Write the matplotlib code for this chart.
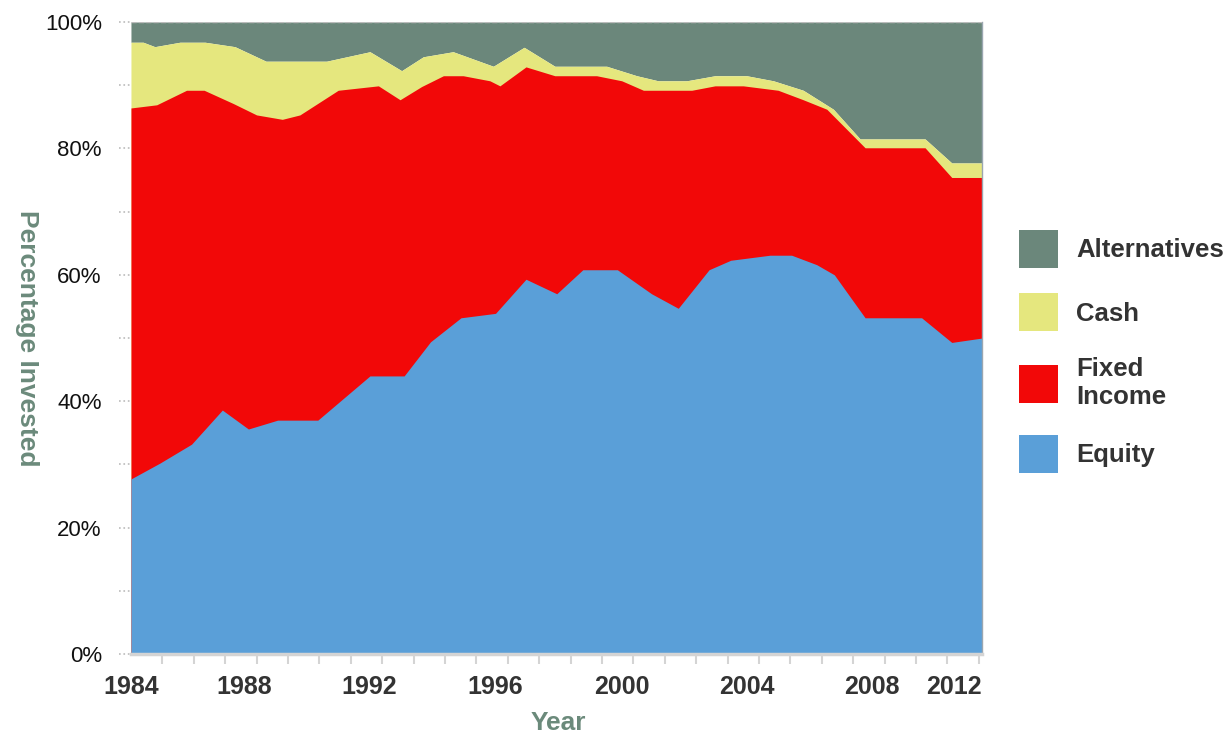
import matplotlib.pyplot as plt
import matplotlib.transforms as mtransforms
from matplotlib.patches import Patch

plt.rcParams['font.family'] = ['Liberation Sans', 'DejaVu Sans']

# x positions are years on the chart's own scale (one minor tick per year)
equity_x = [1984.00, 1984.92, 1985.93, 1986.91, 1987.74, 1988.67, 1989.95, 1991.61,
            1992.70, 1993.54, 1994.51, 1995.61, 1996.58, 1997.56, 1998.39, 1999.49,
            2000.58, 2001.43, 2002.41, 2003.10, 2004.35, 2005.04, 2005.84, 2006.40,
            2007.38, 2009.18, 2010.14, 2011.11]
equity_pct = [27.7, 30.2, 33.2, 38.6, 35.6, 37.0, 37.0, 44.0,
              44.0, 49.4, 53.2, 53.9, 59.3, 57.0, 60.8, 60.8,
              57.0, 54.7, 60.8, 62.3, 63.1, 63.1, 61.6, 60.0,
              53.2, 53.2, 49.3, 50.0]

# equity + fixed income (top edge of the red band)
fixed_top_x = [1984.00, 1984.82, 1985.77, 1986.33, 1987.26, 1988.00, 1988.82, 1989.38,
               1990.60, 1991.88, 1992.57, 1993.26, 1993.95, 1994.58, 1995.43, 1995.75,
               1996.58, 1997.50, 1998.83, 1999.63, 2000.32, 2001.86, 2002.60, 2003.50,
               2004.61, 2005.41, 2006.16, 2007.38, 2009.29, 2010.14, 2011.11]
fixed_top_pct = [86.4, 86.9, 89.2, 89.2, 87.1, 85.3, 84.6, 85.3,
                 89.2, 89.9, 87.7, 89.8, 91.5, 91.5, 90.7, 89.9,
                 92.9, 91.5, 91.5, 90.7, 89.2, 89.2, 89.9, 89.9,
                 89.2, 87.7, 86.2, 80.1, 80.1, 75.4, 75.4]

# equity + fixed income + cash (top edge of the yellow band)
cash_top_x = [1984.00, 1984.39, 1984.76, 1985.56, 1986.36, 1987.31, 1988.30, 1990.23,
              1991.61, 1992.62, 1993.31, 1994.26, 1995.54, 1996.52, 1997.50, 1999.15,
              2000.11, 2000.79, 2001.70, 2002.60, 2003.61, 2004.46, 2005.41, 2006.37,
              2007.22, 2009.29, 2010.14, 2011.11]
cash_top_pct = [96.8, 96.8, 96.1, 96.8, 96.8, 96.1, 93.8, 93.8,
                95.3, 92.3, 94.5, 95.3, 93.0, 96.0, 93.0, 93.0,
                91.5, 90.7, 90.7, 91.5, 91.5, 90.7, 89.2, 86.2,
                81.5, 81.5, 77.7, 77.7]

year_labels = ['1984', '1988', '1992', '1996', '2000', '2004', '2008', '2012']
label_pos = [1984, 1987.6, 1991.6, 1995.6, 1999.65, 2003.6, 2007.6, 2010.2]

colors = {'Alternatives': '#6b877b', 'Cash': '#e5e77e',
          'Fixed Income': '#f20808', 'Equity': '#5a9fd8'}

fig = plt.figure(figsize=(12.32, 7.34), dpi=100)
ax = fig.add_axes([0.1063, 0.109, 0.6907, 0.861])

ax.fill_between(cash_top_x, cash_top_pct, 100, color=colors['Alternatives'], lw=0)
ax.fill_between(cash_top_x, 0, cash_top_pct, color=colors['Cash'], lw=0)
ax.fill_between(fixed_top_x, 0, fixed_top_pct, color=colors['Fixed Income'], lw=0)
ax.fill_between(equity_x, 0, equity_pct, color=colors['Equity'], lw=0)

ax.set_xlim(1984, 2011.1)
ax.set_ylim(0, 100)

# x axis: one small tick per year, labels every four years
ax.set_xticks(label_pos)
ax.set_xticklabels(year_labels, fontsize=18, fontweight='bold', color='#333333')
ax.set_xticks(range(1984, 2012), minor=True)
ax.tick_params(axis='x', which='major', length=0, pad=15)
ax.tick_params(axis='x', which='minor', length=7, width=1.5, color='#d4d4d4')

ax.set_yticks(range(0, 101, 20))
ax.set_yticklabels([f'{v}%' for v in range(0, 101, 20)], fontsize=16, color='#111111')
ax.tick_params(axis='y', which='major', length=0, pad=21)

# dotted marks left of the axis every 10%
trans = mtransforms.blended_transform_factory(ax.transAxes, ax.transData)
for v in range(0, 101, 10):
    ax.plot([-0.014, -0.001], [v, v], transform=trans, ls=':', lw=1.2,
            color='#bbbbbb', clip_on=False)

ax.axhline(100, ls='--', lw=1, color='#bbbbbb', zorder=5)

for side in ['top', 'left']:
    ax.spines[side].set_visible(False)
ax.spines['bottom'].set_color('#d4d4d4')
ax.spines['bottom'].set_linewidth(2.5)
ax.spines['right'].set_color('#9aa6b0')
ax.spines['right'].set_linewidth(1)

ax.set_ylabel('Percentage Invested', fontsize=19, fontweight='bold',
              color='#6b8a7b', rotation=270, va='center')
ax.yaxis.set_label_coords(-0.122, 0.5)
ax.set_xlabel('Year', fontsize=19, fontweight='bold', color='#6b8a7b', va='top')
ax.xaxis.set_label_coords(0.502, -0.09)

handles = [Patch(facecolor=colors[k], edgecolor='none') for k in
           ['Alternatives', 'Cash', 'Fixed Income', 'Equity']]
leg = fig.legend(handles, ['Alternatives', 'Cash', 'Fixed\nIncome', 'Equity'],
                 loc='upper left', bbox_to_anchor=(0.827, 0.687), frameon=False,
                 borderpad=0, borderaxespad=0, handlelength=1.52, handleheight=1.9,
                 handletextpad=0.7, labelspacing=1.0,
                 prop={'size': 18.5, 'weight': 'bold'})
for t in leg.get_texts():
    t.set_color('#333333')

fig.savefig('out.png', dpi=100)
